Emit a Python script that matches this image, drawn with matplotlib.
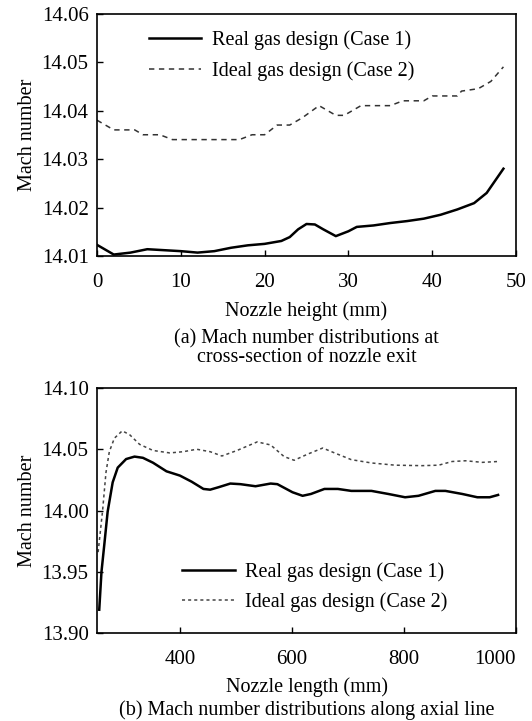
import matplotlib
matplotlib.use("Agg")
import matplotlib.pyplot as plt

plt.rcParams['font.family'] = ['Liberation Serif', 'DejaVu Serif']

# ---- (a) nozzle exit cross-section ----
a_real_x = [0, 2, 4, 6, 8, 10, 12, 14, 16, 18, 20, 22, 23, 24, 25, 26, 27, 28.5, 30, 31, 33, 35, 37, 39, 41, 43, 45, 46.5, 48.5]
a_real_y = [14.0123, 14.0103, 14.0107, 14.0114, 14.0112, 14.0110, 14.0107, 14.0110, 14.0117, 14.0122, 14.0125,
            14.0131, 14.0139, 14.0155, 14.0166, 14.0165, 14.0155, 14.0141, 14.0151, 14.0160, 14.0163, 14.0168,
            14.0172, 14.0177, 14.0185, 14.0196, 14.0209, 14.0230, 14.0280]
a_ideal_x = [0, 1, 2, 4.5, 5.5, 7.5, 9, 17, 18.5, 20, 21.5, 23, 24.5, 26.5, 28.5, 29.5, 31.5, 35, 36.5, 39, 40, 43,
             43.5, 45.5, 47, 48.5]
a_ideal_y = [14.038, 14.037, 14.036, 14.036, 14.035, 14.035, 14.034, 14.034, 14.035, 14.035, 14.037, 14.037,
             14.0385, 14.041, 14.039, 14.039, 14.041, 14.041, 14.042, 14.042, 14.043, 14.043, 14.044, 14.0445,
             14.046, 14.049]
a_xticks = [0, 10, 20, 30, 40, 50]
a_yticks = [14.01, 14.02, 14.03, 14.04, 14.05, 14.06]

# ---- (b) axial line ----
b_real_x = [256, 260, 265, 271, 280, 289, 304, 319, 334, 352, 376, 400, 421, 442, 454, 469, 490, 508, 535, 562,
            574, 601, 619, 634, 658, 682, 706, 742, 772, 802, 826, 856, 874, 904, 931, 953, 968]
b_real_y = [13.919, 13.950, 13.972, 13.999, 14.023, 14.035, 14.042, 14.044, 14.043, 14.039, 14.032, 14.0285,
            14.0235, 14.0176, 14.017, 14.019, 14.022, 14.0215, 14.0198, 14.022, 14.0215, 14.0149, 14.012,
            14.0135, 14.0176, 14.0176, 14.016, 14.016, 14.0135, 14.0108, 14.012, 14.016, 14.016, 14.0135,
            14.0108, 14.0108, 14.0127]
b_ideal_x = [254, 262, 268, 274, 283, 297, 310, 328, 352, 382, 406, 430, 454, 475, 502, 538, 562, 586, 604, 628,
             655, 676, 706, 742, 784, 832, 862, 886, 910, 940, 968]
b_ideal_y = [13.966, 14.000, 14.031, 14.048, 14.059, 14.065, 14.062, 14.054, 14.049, 14.047, 14.048, 14.050,
             14.048, 14.0445, 14.049, 14.056, 14.0535, 14.044, 14.041, 14.046, 14.051, 14.047, 14.0415, 14.0388,
             14.037, 14.0366, 14.037, 14.040, 14.0406, 14.0393, 14.040]
b_xticks = [400, 600, 800, 1000]
b_yticks = [13.90, 13.95, 14.00, 14.05, 14.10]

real_label = "Real gas design (Case 1)"
ideal_label = "Ideal gas design (Case 2)"

W, H = 532, 721
fig = plt.figure(figsize=(W / 100, H / 100), dpi=100)

def frac(l, t, r, b):
    return [l / W, 1 - b / H, (r - l) / W, (b - t) / H]

FS = 14.5
TFS = 15

def style(ax):
    ax.tick_params(direction='in', length=4, width=1, labelsize=TFS, top=False, right=False)
    ax.tick_params(axis='y', pad=6)
    ax.tick_params(axis='x', pad=12)
    for s in ax.spines.values():
        s.set_linewidth(1.2)

ax1 = fig.add_axes(frac(97, 13.5, 516, 256))
ax1.plot(a_real_x, a_real_y, color='black', lw=1.8, label=real_label)
ax1.plot(a_ideal_x, a_ideal_y, color='#333333', lw=1.1, ls=(0, (3.5, 3)), label=ideal_label)
ax1.set_xlim(0, 50)
ax1.set_ylim(14.01, 14.06)
ax1.set_xticks(a_xticks)
ax1.set_yticks(a_yticks)
ax1.set_yticklabels([f"{v:.2f}" for v in a_yticks])
style(ax1)
ax1.set_ylabel("Mach number", fontsize=FS, labelpad=3)
ax1.legend(loc='upper left', bbox_to_anchor=(0.08, 1.005), frameon=False, fontsize=FS,
           handlelength=2.6, handletextpad=0.55, labelspacing=0.55)

ax2 = fig.add_axes(frac(97, 388, 516, 633))
ax2.plot(b_real_x, b_real_y, color='black', lw=1.8, label=real_label)
ax2.plot(b_ideal_x, b_ideal_y, color='#444444', lw=1.1, ls=(0, (2, 2)), label=ideal_label)
ax2.set_xlim(252, 1000)
ax2.set_ylim(13.90, 14.10)
ax2.set_xticks(b_xticks)
ax2.set_yticks(b_yticks)
ax2.set_yticklabels([f"{v:.2f}" for v in b_yticks])
style(ax2)
ax2.xaxis.get_majorticklabels()[-1].set_horizontalalignment('right')
ax2.set_ylabel("Mach number", fontsize=FS, labelpad=3)
ax2.legend(loc='lower left', bbox_to_anchor=(0.16, 0.01), frameon=False, fontsize=FS,
           handlelength=2.6, handletextpad=0.5, labelspacing=0.55)

cx = (97 + 516) / 2 / W
fig.text(cx, 1 - 311 / H, "Nozzle height (mm)", ha='center', va='center', fontsize=FS)
fig.text(cx, 1 - 348 / H, "(a) Mach number distributions at\ncross-section of nozzle exit",
         ha='center', va='center', fontsize=FS, linespacing=1.0)
fig.text(cx, 1 - 687 / H, "Nozzle length (mm)", ha='center', va='center', fontsize=FS)
fig.text(cx, 1 - 710 / H, "(b) Mach number distributions along axial line",
         ha='center', va='center', fontsize=FS)

fig.savefig("out.png", dpi=100)
